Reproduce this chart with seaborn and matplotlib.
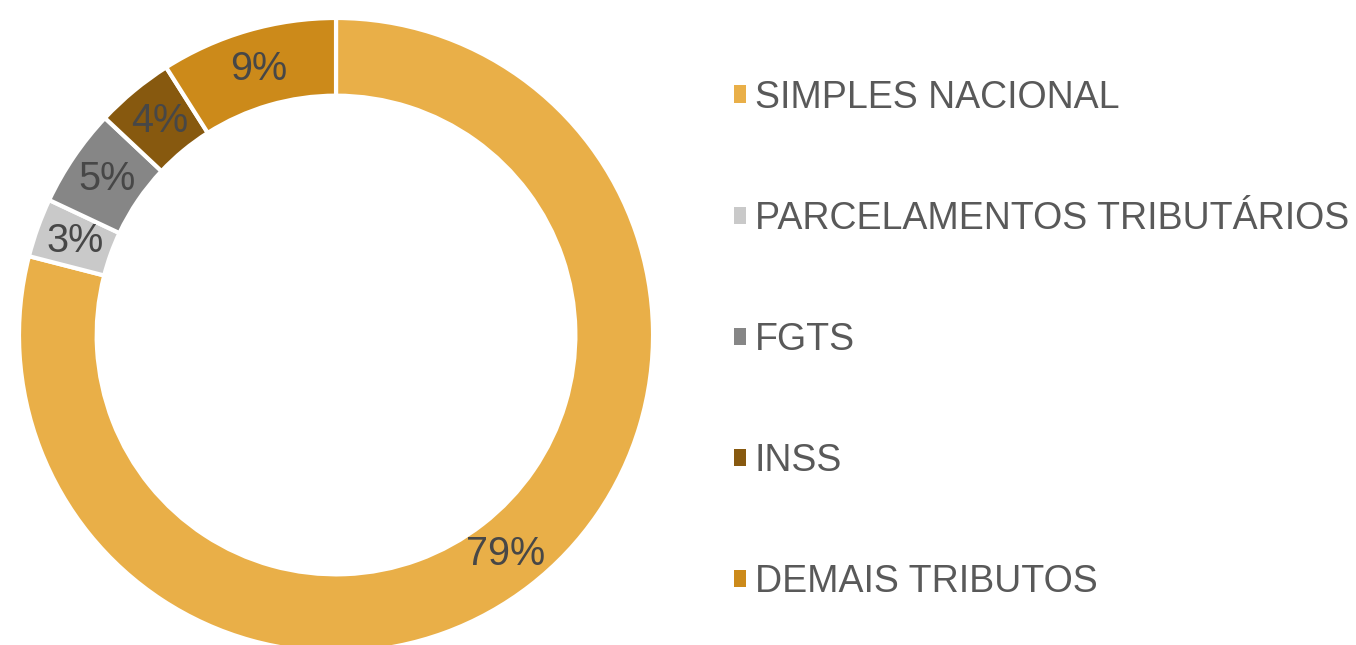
import matplotlib
matplotlib.use("Agg")
import matplotlib.pyplot as plt
import seaborn as sns

sns.set_theme(style="white")
plt.rcParams["font.family"] = ["Liberation Sans", "DejaVu Sans"]

categories = ["SIMPLES NACIONAL", "PARCELAMENTOS TRIBUTÁRIOS", "FGTS", "INSS", "DEMAIS TRIBUTOS"]
shares = [79, 3, 5, 4, 9]
colors = ["#E9AF48", "#C9C9C9", "#868686", "#87590F", "#CC8A1A"]

fig = plt.figure(figsize=(13.56, 6.45), dpi=100)
# donut centred at ~(336, 335) px, outer radius ~317 px
ax = fig.add_axes([0.014, -0.0109, 0.4676, 0.983])

wedges, texts, autotexts = ax.pie(
    shares, colors=colors, startangle=90, counterclock=False,
    autopct=lambda p: f"{p:.0f}%", pctdistance=0.875,
    wedgeprops=dict(width=0.245, edgecolor="white", linewidth=3),
    textprops=dict(color="#474747", fontsize=28.5),
)
ax.set_xlim(-1, 1)
ax.set_ylim(-1, 1)
ax.set_aspect("equal")
ax.axis("off")

fig.legend(wedges, categories, loc="center left", bbox_to_anchor=(0.53, 0.473),
           frameon=False, fontsize=27, labelcolor="#595959",
           handlelength=0.34, handleheight=0.34, handletextpad=0.22,
           labelspacing=2.27, borderaxespad=0)
for h in fig.legends[0].legend_handles:
    h.set_edgecolor("none")

fig.savefig("out.png", dpi=100)
